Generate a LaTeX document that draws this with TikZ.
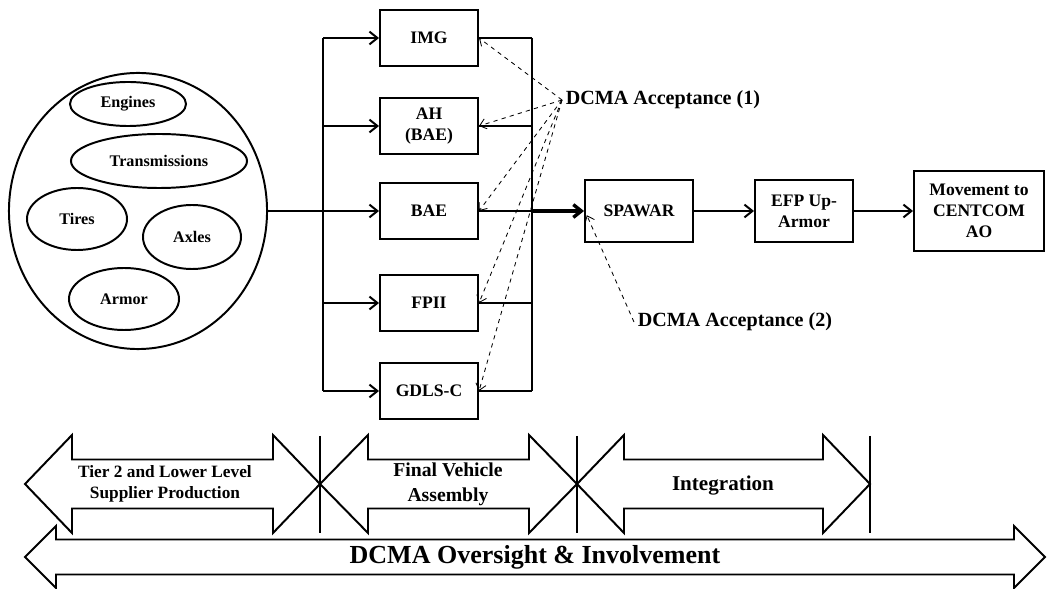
\documentclass[tikz,border=0pt]{standalone}
\usepackage{fontspec}
\setmainfont{Liberation Serif}
\usetikzlibrary{arrows.meta,shapes.geometric}
\newcommand\dblarrow[6]{% left tip, right tip, mid y, head half, shaft half, head length
  (#1,#3) -- ({#1+#6},{#3-#4}) -- ({#1+#6},{#3-#5}) -- ({#2-#6},{#3-#5})
  -- ({#2-#6},{#3-#4}) -- (#2,#3) -- ({#2-#6},{#3+#4}) -- ({#2-#6},{#3+#5})
  -- ({#1+#6},{#3+#5}) -- ({#1+#6},{#3+#4}) -- cycle
}
\begin{document}
\begin{tikzpicture}[x=0.025cm,y=-0.025cm,line width=1.4pt,
		box/.style={draw,minimum width=2.45cm,minimum height=1.4cm,align=center,
			font=\fontsize{12.5}{15}\selectfont\bfseries},
		part/.style={draw,ellipse,inner sep=0,font=\fontsize{11.5}{13}\selectfont\bfseries},
		arr/.style={-{Straight Barb[length=2mm,width=3.2mm]}},
		accept/.style={dashed,line width=0.6pt,-{Straight Barb[length=1.6mm,width=2.6mm]}},
		lbl/.style={font=\fontsize{14.3}{16}\selectfont\bfseries,inner sep=2pt}]
		\useasboundingbox (0,0) rectangle (1047,589);

		\node[draw,ellipse,inner sep=0,minimum width=6.45cm,minimum height=6.9cm] (parts) at (138,211) {};
		\node[part,minimum width=2.9cm,minimum height=1.1cm] (engines) at (128,104) {Engines};
		\node[part,minimum width=4.4cm,minimum height=1.35cm] (trans) at (159,161) {Transmissions};
		\node[part,minimum width=2.5cm,minimum height=1.55cm] (tires) at (77,219) {Tires};
		\node[part,minimum width=2.45cm,minimum height=1.6cm] (axles) at (192,237) {Axles};
		\node[part,minimum width=2.75cm,minimum height=1.55cm] (armor) at (124,299) {Armor};

		\node[box] (img) at (429,38) {IMG};
		\node[box] (ah) at (429,126) {AH\\(BAE)};
		\node[box] (bae) at (429,211) {BAE};
		\node[box] (fpii) at (429,303) {FPII};
		\node[box] (gdls) at (429,391) {GDLS-C};

		\node[box,minimum width=2.7cm,minimum height=1.55cm] (spawar) at (639,211) {SPAWAR};
		\node[box,minimum height=1.55cm] (efp) at (804,211) {EFP Up-\\Armor};
		\node[box,minimum width=3.25cm,minimum height=2cm] (move) at (979,211) {Movement to\\CENTCOM\\AO};

		\coordinate (lbus) at (323,211);
		\coordinate (rbus) at (532,211);

		\draw (parts.east) -- (lbus);
		\draw (lbus |- img.west) -- (lbus |- gdls.west);
		\foreach \b in {img,ah,bae,fpii,gdls}
			\draw[arr] (lbus |- \b.west) -- (\b.west);
		\draw (rbus |- img.east) -- (rbus |- gdls.east);
		\foreach \b in {img,ah,bae,fpii,gdls}
			\draw (\b.east) -- (rbus |- \b.east);
		\draw[arr,line width=2.4pt] (rbus) -- (spawar.west);
		\draw[arr] (spawar) -- (efp);
		\draw[arr] (efp) -- (move);

		\node[lbl,anchor=west] (acc1) at (562,100) {DCMA Acceptance (1)};
		\node[lbl,anchor=west] (acc2) at (634,322) {DCMA Acceptance (2)};
		\foreach \b in {img,ah,bae,fpii,gdls}
			\draw[accept] (acc1.west) -- (\b.east);
		\draw[accept] (acc2.west) -- ([xshift=2pt,yshift=-3pt]spawar.west);

		% phases
		\draw \dblarrow{25}{320}{484}{49}{24.5}{47};
		\draw \dblarrow{320}{577}{484}{49}{24.5}{48};
		\draw \dblarrow{577}{870}{484}{49}{24.5}{47};
		\draw \dblarrow{25}{1045}{557}{31}{17.5}{31};
		\foreach \x in {320,577,870}
			\draw (\x,436) -- (\x,533);

		\node[align=center,font=\fontsize{12.3}{14.5}\selectfont\bfseries] (tier) at (165,484) {Tier 2 and Lower Level\\Supplier Production};
		\node[align=center,font=\fontsize{14}{17.5}\selectfont\bfseries] (final) at (448,484) {Final Vehicle\\Assembly};
		\node[font=\fontsize{15}{17}\selectfont\bfseries] (integ) at (723,486) {Integration};
		\node[font=\fontsize{18.5}{20}\selectfont\bfseries] (oversight) at (535,557) {DCMA Oversight \& Involvement};
	\end{tikzpicture}
\end{document}
